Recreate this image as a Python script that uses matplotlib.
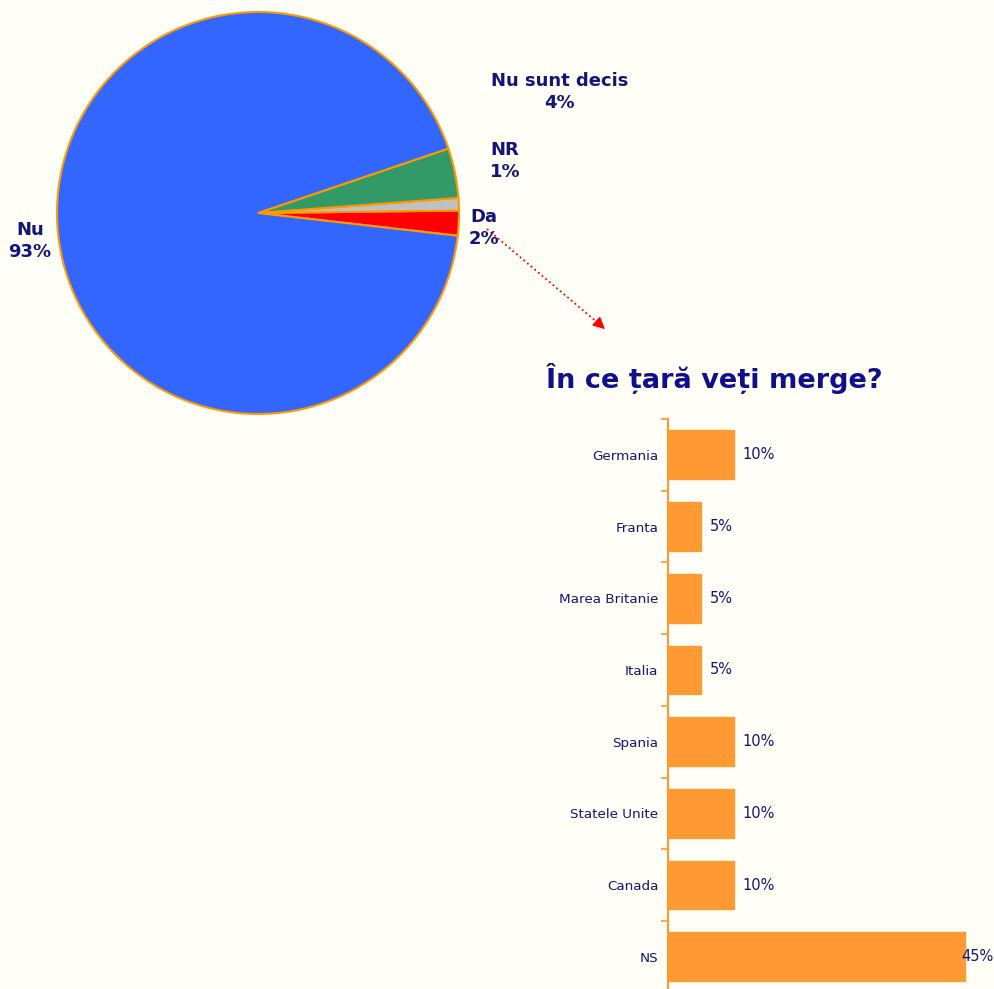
import numpy as np
import matplotlib.pyplot as plt
from matplotlib.lines import Line2D

plt.rcParams['font.family'] = ['DejaVu Sans']

# pie data
pie_labels = ['Da', 'NR', 'Nu sunt decis', 'Nu']
pie_values = [2, 1, 4, 93]
pie_colors = ['#FF0000', '#C0C0C0', '#339966', '#3366FF']

# bar data
countries = ['Germania', 'Franta', 'Marea Britanie', 'Italia', 'Spania',
             'Statele Unite', 'Canada', 'NS']
shares = [10, 5, 5, 5, 10, 10, 10, 45]

BG = '#FFFFF7'
NAVY = '#14147A'
ORANGE = '#FF9933'

W, H = 995, 989
fig = plt.figure(figsize=(W / 100, H / 100), dpi=100, facecolor=BG)


def px(x, y):
    return x / W, 1 - y / H


# ---- pie ----
cx, cy, r = 258, 213, 203
ax1 = fig.add_axes([(cx - r) / W, (H - cy - r) / H, 2 * r / W, 2 * r / H])
ax1.set_facecolor(BG)
ax1.pie(pie_values, colors=pie_colors, startangle=-6.5, counterclock=True,
        wedgeprops=dict(edgecolor='#FF9900', linewidth=1.5))
ax1.set_xlim(-1.01, 1.01)
ax1.set_ylim(-1.01, 1.01)
ax1.axis('off')

label_pos = {'Da': (484, 228), 'NR': (505, 161), 'Nu sunt decis': (560, 92), 'Nu': (30, 241)}
for lab, val in zip(pie_labels, pie_values):
    x, y = label_pos[lab]
    fig.text(*px(x, y), f'{lab}\n{val}%', ha='center', va='center', fontsize=13,
             fontweight='bold', color=NAVY, linespacing=1.35)

# dotted arrow from the "Da" slice to the bar chart
fig.add_artist(Line2D([px(487, 0)[0], px(598, 0)[0]], [px(0, 229)[1], px(0, 323)[1]],
                      color='red', linestyle=':', linewidth=1.3))
fig.add_artist(plt.Annotation('', xy=px(607, 331), xytext=px(596, 321),
                              xycoords='figure fraction', textcoords='figure fraction',
                              arrowprops=dict(arrowstyle='-|>', color='red',
                                              mutation_scale=18, lw=1)))

# ---- bar chart ----
fig.text(*px(714, 379), 'În ce țară veți merge?', ha='center', va='center',
         fontsize=19.5, fontweight='bold', color='#10108C')

top, step = 419, 71.7
n = len(countries)
ax2 = fig.add_axes([668 / W, 1 - (top + n * step) / H, (995 - 668) / W, n * step / H])
ax2.set_facecolor(BG)
ypos = np.arange(n)
ax2.barh(ypos, shares, height=0.68, color=ORANGE, edgecolor='#F7A030', linewidth=1)
ax2.set_ylim(n - 0.5, -0.5)
ax2.set_xlim(0, 45 * (995 - 668) / 297)

for s in ['top', 'right', 'bottom']:
    ax2.spines[s].set_visible(False)
ax2.spines['left'].set_color(ORANGE)
ax2.spines['left'].set_linewidth(1.5)
ax2.set_xticks([])
ax2.set_yticks(ypos)
ax2.set_yticklabels(countries, fontsize=9.7, color=NAVY)
ax2.tick_params(axis='y', length=0, pad=7)
ax2.set_yticks(np.arange(-0.5, n, 1), minor=True)
ax2.tick_params(axis='y', which='minor', length=5, color=ORANGE, width=1.2, direction='out')

for y, v in zip(ypos, shares):
    off = 6 if v < max(shares) else -3
    ax2.annotate(f'{v}%', (v, y), xytext=(off, 0), textcoords='offset points',
                 va='center', ha='left', fontsize=10.5, color=NAVY)

fig.savefig('out.png', dpi=100, facecolor=BG)
